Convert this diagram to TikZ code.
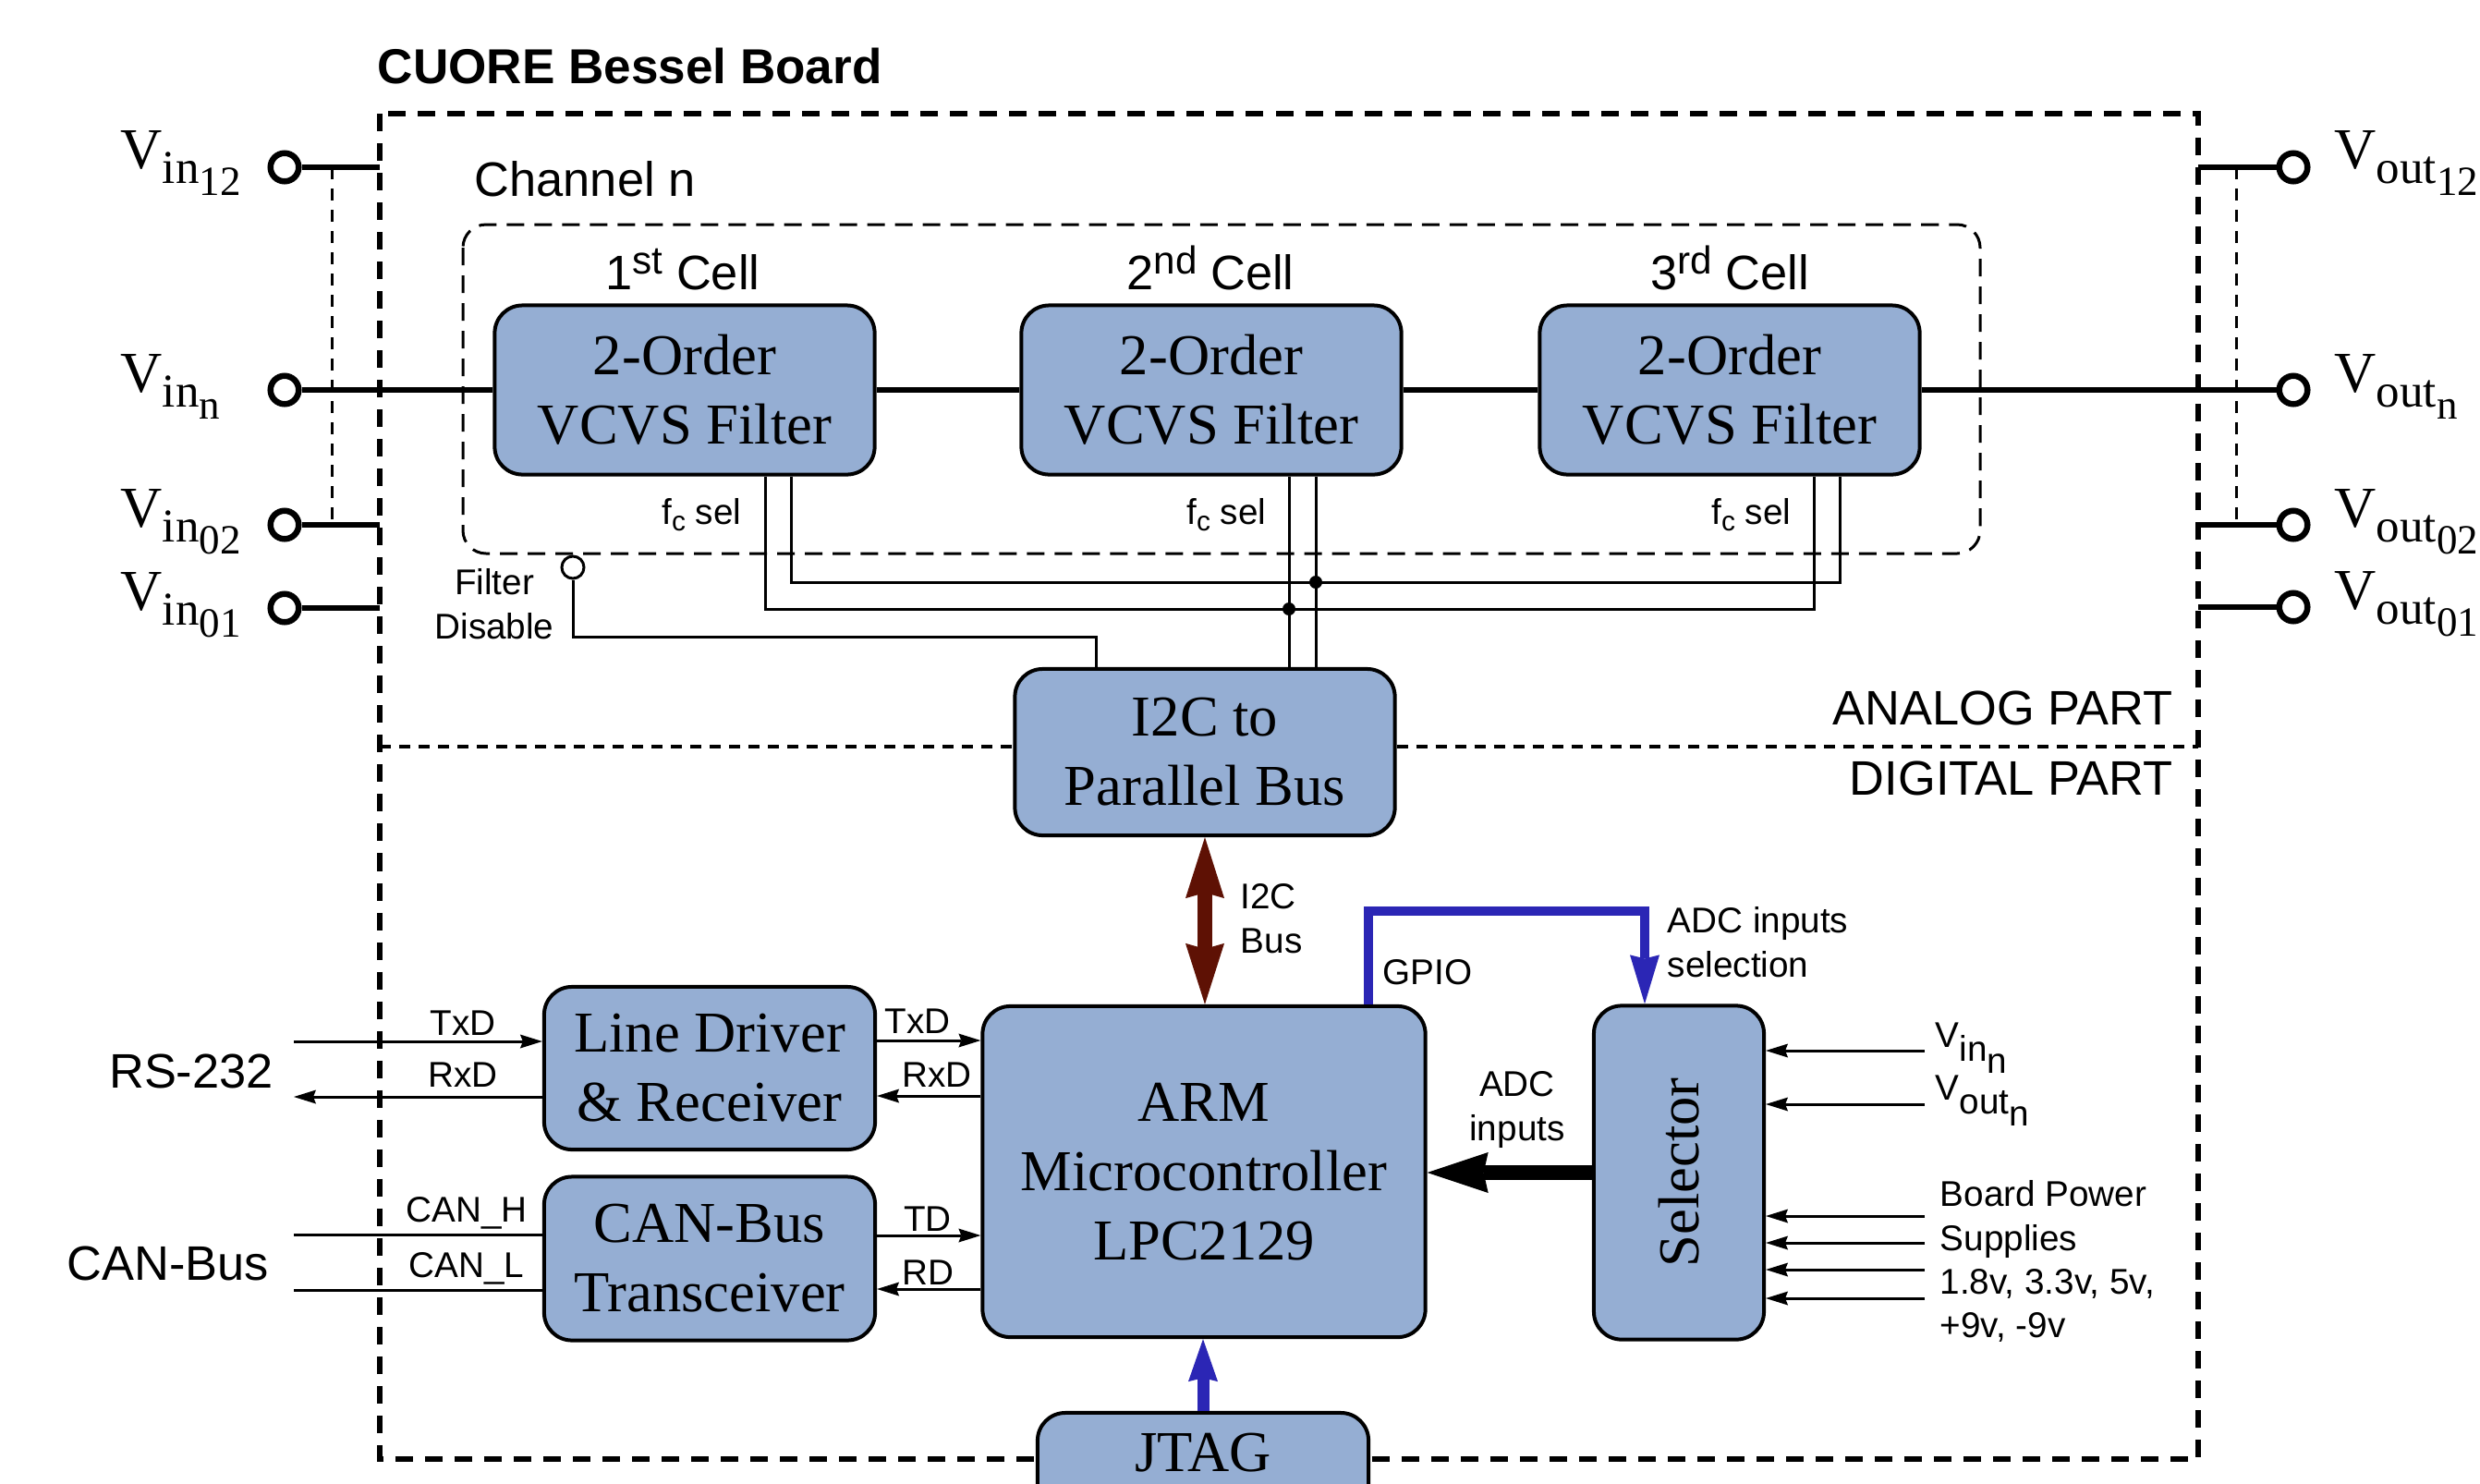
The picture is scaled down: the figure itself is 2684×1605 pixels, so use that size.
\documentclass[tikz,border=0pt]{standalone}
\usepackage{fontspec}
\setmainfont{Liberation Serif}
\setsansfont{Liberation Sans}
\usetikzlibrary{arrows.meta}
\definecolor{boxblue}{RGB}{149,174,211}
\definecolor{arrblue}{RGB}{43,38,181}
\definecolor{i2cred}{RGB}{94,17,4}
\newcommand{\fbig}{\rmfamily\fontsize{17.8}{21.3}\selectfont}
\newcommand{\fsans}{\sffamily\fontsize{14.9}{18}\selectfont}
\newcommand{\fsmall}{\sffamily\fontsize{11}{13.6}\selectfont}
\newcommand{\vlabA}[2]{V\raisebox{-4.8pt}{\fontsize{14.5}{14.5}\selectfont #1\raisebox{-3.7pt}{\fontsize{12.8}{12.8}\selectfont #2}}}
\newcommand{\vlabB}[2]{V\raisebox{-4.5pt}{#1\raisebox{-3.7pt}{#2}}}
\begin{document}
\begin{tikzpicture}[x=0.01cm,y=-0.01cm,
  box/.style={draw=black,line width=0.04cm,fill=boxblue,rounded corners=0.3cm,align=center,font=\fbig,inner sep=0pt},
  term/.style={circle,draw=black,line width=0.065cm,fill=white,minimum size=0.305cm,inner sep=0pt},
  fdis/.style={circle,draw=black,line width=0.03cm,fill=white,minimum size=0.24cm,inner sep=0pt},
  sig/.style={line width=0.06cm},
  wire/.style={line width=0.03cm},
  outerd/.style={line width=0.055cm,dash pattern=on 0.19cm off 0.13cm},
  chand/.style={line width=0.03cm,dash pattern=on 0.19cm off 0.11cm,rounded corners=0.25cm},
  partd/.style={line width=0.04cm,dash pattern=on 0.12cm off 0.09cm},
  vdash/.style={line width=0.03cm,dash pattern=on 0.13cm off 0.1cm},
  lbl/.style={inner sep=0pt,font=\fsmall},
  bigl/.style={inner sep=0pt,font=\fsans},
  vlab/.style={inner sep=0pt,font=\fbig},
  sarrow/.style={line width=0.03cm,-{Stealth[length=0.24cm,width=0.15cm,inset=0.03cm,line width=0pt]}},
  i2carrow/.style={draw=i2cred,line width=0.16cm,{Stealth[length=0.66cm,width=0.42cm,inset=0.06cm,line width=0pt]}-{Stealth[length=0.66cm,width=0.42cm,inset=0.06cm,line width=0pt]}},
  gpio/.style={draw=arrblue,line width=0.1cm,-{Stealth[length=0.53cm,width=0.32cm,inset=0.04cm,line width=0pt]}},
  jtagarrow/.style={draw=arrblue,line width=0.13cm,-{Stealth[length=0.46cm,width=0.32cm,inset=0.04cm,line width=0pt]}},
  adcarrow/.style={draw=black,line width=0.16cm,-{Stealth[length=0.66cm,width=0.44cm,inset=0.05cm,line width=0pt]}}
]
\fill[white] (0,0) rectangle (2684,1605);
\useasboundingbox (0,0) rectangle (2684,1605);

% frames
\draw[outerd] (411,123) rectangle (2379,1579);
\draw[chand] (501,243) rectangle (2143,599);

% helper coordinates
\coordinate (oL) at (411,0);
\coordinate (oR) at (2379,0);
\coordinate (dL) at (359,0);
\coordinate (dR) at (2420,0);

% boxes
\node[box,minimum width=4.11cm,minimum height=1.83cm] (f1) at (741,422) {2-Order\\VCVS Filter};
\node[box,minimum width=4.11cm,minimum height=1.83cm] (f2) at (1311,422) {2-Order\\VCVS Filter};
\node[box,minimum width=4.11cm,minimum height=1.83cm] (f3) at (1872,422) {2-Order\\VCVS Filter};
\node[box,minimum width=4.11cm,minimum height=1.80cm] (i2c) at (1304,814) {I2C to\\Parallel Bus};
\node[box,minimum width=3.58cm,minimum height=1.76cm] (ld) at (768,1156) {Line Driver\\\& Receiver};
\node[box,minimum width=3.58cm,minimum height=1.77cm] (can) at (768,1362) {CAN-Bus\\Transceiver};
\node[box,minimum width=4.79cm,minimum height=3.58cm] (arm) at (1303,1268) {ARM\\Microcontroller\\LPC2129};
\node[box,minimum width=1.84cm,minimum height=3.61cm] (sel) at (1817,1269) {\rotatebox{90}{Selector}};
\node[box,minimum width=3.58cm,text height=0.63cm,text depth=0.6cm,anchor=base] (jtag) at (1302,1592) {JTAG};

% terminals
\node[term] (vi12) at (308,181) {};
\node[term] (vin) at (308,422) {};
\node[term] (vi02) at (308,568) {};
\node[term] (vi01) at (308,658) {};
\node[term] (vo12) at (2482,181) {};
\node[term] (von) at (2482,422) {};
\node[term] (vo02) at (2482,568) {};
\node[term] (vo01) at (2482,657) {};

\node[vlab,anchor=base west] (lvi12) at (130,182) {\vlabA{in}{12}};
\node[vlab,anchor=base west] (lvin) at (130,424) {\vlabA{in}{n}};
\node[vlab,anchor=base west] (lvi02) at (130,570) {\vlabA{in}{02}};
\node[vlab,anchor=base west] (lvi01) at (130,660) {\vlabA{in}{01}};
\node[vlab,anchor=base west] (lvo12) at (2526,182) {\vlabA{out}{12}};
\node[vlab,anchor=base west] (lvon) at (2526,424) {\vlabA{out}{n}};
\node[vlab,anchor=base west] (lvo02) at (2526,570) {\vlabA{out}{02}};
\node[vlab,anchor=base west] (lvo01) at (2526,659) {\vlabA{out}{01}};

% signal lines
\draw[sig] (vi12.east) -- (vi12.east -| oL);
\draw[sig] (vi02.east) -- (vi02.east -| oL);
\draw[sig] (vi01.east) -- (vi01.east -| oL);
\draw[sig] (vin.east) -- (f1.west);
\draw[sig] (f1.east) -- (f2.west);
\draw[sig] (f2.east) -- (f3.west);
\draw[sig] (f3.east) -- (von.west);
\draw[sig] (vo12.west -| oR) -- (vo12.west);
\draw[sig] (vo02.west -| oR) -- (vo02.west);
\draw[sig] (vo01.west -| oR) -- (vo01.west);
\draw[vdash] (vi12 -| dL) -- (vi02 -| dL);
\draw[vdash] (vo12 -| dR) -- (vo02 -| dR);

% fc sel wires
\coordinate (wa1) at (828,0);
\coordinate (wb1) at (856,0);
\coordinate (wa2) at (1395,0);
\coordinate (wb2) at (1424,0);
\coordinate (wa3) at (1963,0);
\coordinate (wb3) at (1991,0);
\coordinate (ylo) at (0,659);
\coordinate (yhi) at (0,630);
\draw[wire] (f1.south -| wa1) |- (ylo -| wa3) -- (f3.south -| wa3);
\draw[wire] (f1.south -| wb1) |- (yhi -| wb3) -- (f3.south -| wb3);
\draw[wire] (f2.south -| wa2) -- (i2c.north -| wa2);
\draw[wire] (f2.south -| wb2) -- (i2c.north -| wb2);
\fill (ylo -| wa2) circle (7);
\fill (yhi -| wb2) circle (7);

% filter disable
\node[fdis] (fd) at (620,614) {};
\coordinate (fdc) at (1186,689);
\draw[wire] (fd.south) |- (fdc) -- (i2c.north -| fdc);
\node[lbl,align=center] (fdl) at (535,654) {Filter\\Disable};

% analog / digital separator
\coordinate (yad) at (0,808);
\draw[partd] (oL |- yad) -- (i2c.west |- yad);
\draw[partd] (i2c.east |- yad) -- (oR |- yad);

% titles and labels
\node[inner sep=0pt,anchor=base west,font=\sffamily\bfseries\fontsize{15.1}{18}\selectfont] (title) at (408,90) {CUORE Bessel Board};
\node[bigl,anchor=base west] (chn) at (513,212) {Channel n};
\node[bigl,anchor=base] (c1) at (739,313) {1\raisebox{4.8pt}{\fontsize{12}{12}\selectfont st} Cell};
\node[bigl,anchor=base] (c2) at (1310,313) {2\raisebox{4.8pt}{\fontsize{12}{12}\selectfont nd} Cell};
\node[bigl,anchor=base] (c3) at (1872,313) {3\raisebox{4.8pt}{\fontsize{12}{12}\selectfont rd} Cell};
\node[lbl,anchor=base east] (fc1) at (803,567) {f\raisebox{-2pt}{\fontsize{8.5}{8.5}\selectfont c} sel};
\node[lbl,anchor=base east] (fc2) at (1371,567) {f\raisebox{-2pt}{\fontsize{8.5}{8.5}\selectfont c} sel};
\node[lbl,anchor=base east] (fc3) at (1939,567) {f\raisebox{-2pt}{\fontsize{8.5}{8.5}\selectfont c} sel};
\node[bigl,anchor=base east] (ana) at (2352,784) {ANALOG PART};
\node[bigl,anchor=base east] (dig) at (2352,860) {DIGITAL PART};
\node[bigl,anchor=base] (rs) at (207,1177) {RS-232};
\node[bigl,anchor=base] (cb) at (182,1385) {CAN-Bus};

% RS-232 / CAN lines
\coordinate (xL) at (318,0);
\coordinate (yTx) at (0,1127);
\coordinate (yRx) at (0,1187);
\coordinate (yH) at (0,1336);
\coordinate (yL) at (0,1396);
\coordinate (yTx2) at (0,1126);
\coordinate (yRx2) at (0,1186);
\coordinate (yTD) at (0,1337);
\coordinate (yRD) at (0,1395);
\draw[sarrow] (xL |- yTx) -- (ld.west |- yTx);
\draw[sarrow] (ld.west |- yRx) -- (xL |- yRx);
\draw[wire] (xL |- yH) -- (can.west |- yH);
\draw[wire] (xL |- yL) -- (can.west |- yL);
\draw[sarrow] (ld.east |- yTx2) -- (arm.west |- yTx2);
\draw[sarrow] (arm.west |- yRx2) -- (ld.east |- yRx2);
\draw[sarrow] (can.east |- yTD) -- (arm.west |- yTD);
\draw[sarrow] (arm.west |- yRD) -- (can.east |- yRD);
\node[lbl,anchor=base] (ltx1) at (501,1120) {TxD};
\node[lbl,anchor=base] (lrx1) at (501,1176) {RxD};
\node[lbl,anchor=base] (ltx2) at (993,1118) {TxD};
\node[lbl,anchor=base] (lrx2) at (1014,1176) {RxD};
\node[lbl,anchor=base] (lch) at (505,1322) {CAN\_H};
\node[lbl,anchor=base] (lcl) at (505,1382) {CAN\_L};
\node[lbl,anchor=base] (ltd) at (1004,1332) {TD};
\node[lbl,anchor=base] (lrd) at (1004,1390) {RD};

% big arrows
\draw[i2carrow] (i2c.south) -- (i2c.south |- arm.north);
\node[lbl,align=left,anchor=west] (li2c) at (1342,994) {I2C\\Bus};
\coordinate (g1) at (1481,986);
\coordinate (g2) at (1780,986);
\draw[gpio] (arm.north -| g1) -- (g1) -- (g2) -- (sel.north -| g2);
\node[lbl,anchor=base west] (lgpio) at (1496,1065) {GPIO};
\node[lbl,align=left,anchor=west] (ladcs) at (1804,1020) {ADC inputs\\selection};
\draw[jtagarrow] (jtag.north) -- (jtag.north |- arm.south);
\draw[adcarrow] (sel.west) -- (sel.west -| arm.east);
\node[lbl,align=center] (ladc) at (1642,1201) {ADC\\inputs};

% selector inputs
\coordinate (xS) at (2083,0);
\coordinate (s1) at (2083,1137);
\coordinate (s2) at (2083,1195);
\coordinate (s3) at (2083,1316);
\coordinate (s4) at (2083,1345);
\coordinate (s5) at (2083,1374);
\coordinate (s6) at (2083,1405);
\draw[sarrow] (s1) -- (s1 -| sel.east);
\draw[sarrow] (s2) -- (s2 -| sel.east);
\draw[sarrow] (s3) -- (s3 -| sel.east);
\draw[sarrow] (s4) -- (s4 -| sel.east);
\draw[sarrow] (s5) -- (s5 -| sel.east);
\draw[sarrow] (s6) -- (s6 -| sel.east);
\node[lbl,anchor=base west] (lsvin) at (2094,1133) {\vlabB{in}{n}};
\node[lbl,anchor=base west] (lsvout) at (2094,1190) {\vlabB{out}{n}};
\node[lbl,align=left,anchor=west,font=\sffamily\fontsize{11}{13.4}\selectfont] (lpow) at (2099,1365) {Board Power\\Supplies\\1.8v, 3.3v, 5v,\\+9v, -9v};
\end{tikzpicture}
\end{document}
